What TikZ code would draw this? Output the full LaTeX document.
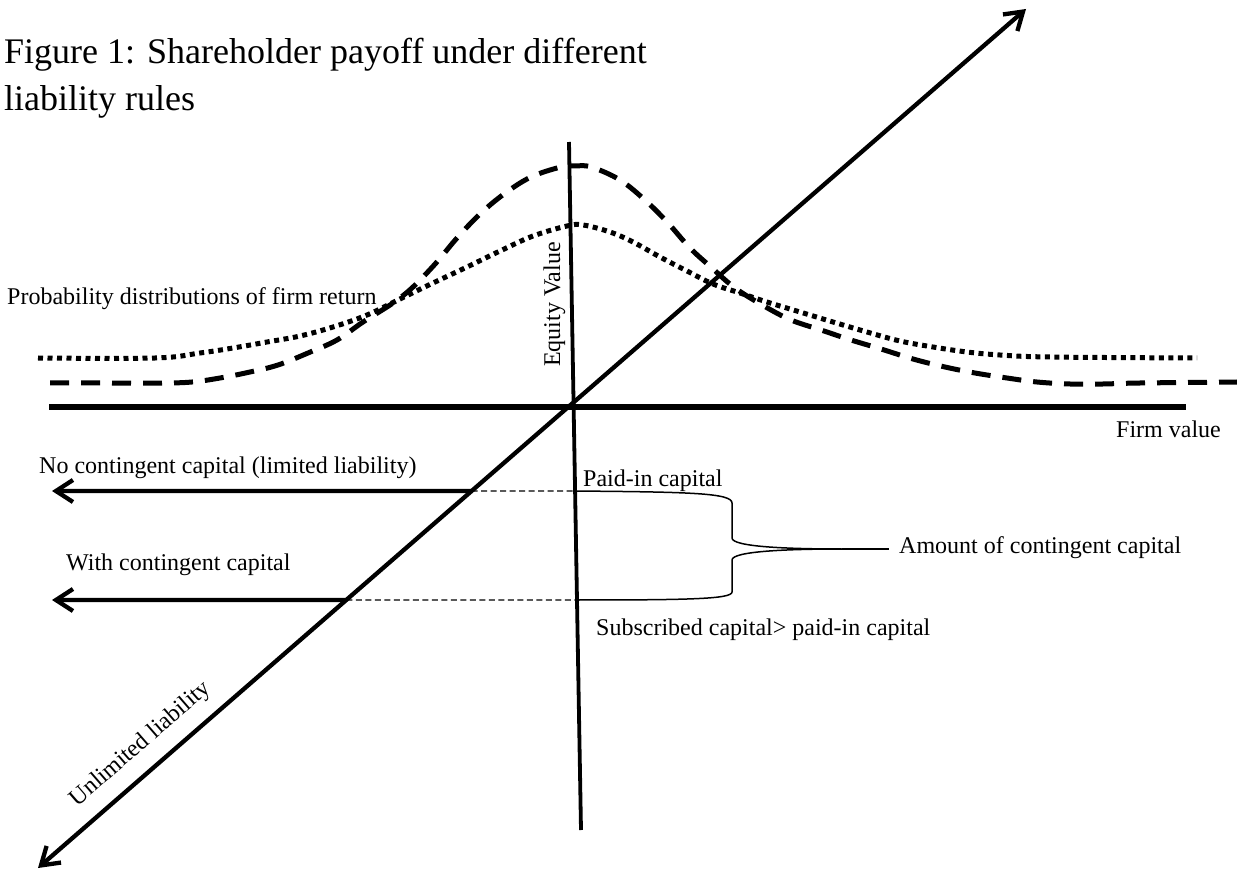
\documentclass[tikz,border=0pt]{standalone}
\usepackage{fontspec}
\setmainfont{Liberation Serif}
\usetikzlibrary{arrows.meta,calc}
\begin{document}
\begin{tikzpicture}[x=1pt,y=-1pt,
  >={Straight Barb[length=17pt,width=22pt]},
  lblfont/.style={font=\fontsize{24}{28}\selectfont, inner sep=0pt},
  lbl/.style={lblfont, anchor=base west},
  heavy/.style={line width=6.5pt},
  axisv/.style={line width=3.8pt},
  diag/.style={line width=4.3pt},
  barb/.style={line width=4.3pt, ->},
  thindash/.style={line width=1.2pt, dash pattern=on 6pt off 3.5pt},
  bracel/.style={line width=1.5pt},
  dashcurve/.style={line width=5pt, dash pattern=on 19pt off 12pt},
  dotcurve/.style={line width=5pt, dash pattern=on 5pt off 4.5pt},
]
\useasboundingbox (0,0) rectangle (1237,874);

% title
\node[font=\fontsize{36}{47}\selectfont, inner sep=0pt, anchor=north west, align=left] (title) at (4,38)
  {Figure 1: Shareholder payoff under different\\liability rules};

% probability curves
\draw[dotcurve] plot[smooth, tension=0.6] coordinates {
 (38,358) (155,358) (200,353) (233,348) (267,342) (300,336) (333,327) (367,315)
 (400,299) (433,283) (467,267) (500,251) (533,236) (567,226) (583,225) (610,232)
 (633,242) (660,257) (687,271) (713,284) (740,293) (767,302) (800,312) (833,322)
 (867,332) (900,341) (933,347) (967,352) (1000,355) (1050,357) (1197,358)};
\draw[dashcurve] plot[smooth, tension=0.6] coordinates {
 (50,383) (100,383) (163,383) (192,382) (220,378) (250,372) (278,365) (308,353)
 (337,340) (363,322) (393,303) (413,287) (436,263) (457,238) (480,214) (504,194)
 (531,177) (561,167) (575,166) (591,167) (620,180) (646,201) (668,223) (690,248)
 (712,268) (735,288) (764,306) (791,320) (821,330) (851,340) (881,349) (913,359)
 (945,367) (975,373) (1007,378) (1037,382) (1070,384) (1103,384) (1140,383) (1237,382)};

% axes
\coordinate (hL) at (49,407);
\coordinate (hR) at (1186,407);
\coordinate (vT) at (569,142);
\coordinate (vB) at (581,830);
\coordinate (dA) at (38,868);
\coordinate (dB) at (1026,9);
\draw[heavy] (hL) -- (hR);
\draw[axisv] (vT) -- (vB);
\draw[diag, <->] (dA) -- (dB)
  node[lblfont, pos=0.121, sloped, above=13pt] (unlim) {Unlimited liability};

% payoff arrows
\coordinate (c1) at ($(dA)!0.4389!(dB)$);
\coordinate (c2) at ($(dA)!0.3120!(dB)$);
\coordinate (l1) at (52,491);
\coordinate (l2) at (52,600);
\coordinate (a1) at ($(vT)!0.5073!(vB)$);
\coordinate (a2) at ($(vT)!0.6657!(vB)$);
\draw[barb] (c1) -- (l1);
\draw[barb] (c2) -- (l2);
\draw[thindash] (c1) -- (a1);
\draw[thindash] (c2) -- (a2);

% brace
\coordinate (tip) at (842,549);
\coordinate (amtend) at (889,549);
\draw[bracel] (a1) .. controls (690,492) and (732,493) .. (732,503) -- (732,538)
  .. controls (732,547) and (790,549) .. (tip);
\draw[bracel] (tip) .. controls (790,549) and (732,551) .. (732,560) -- (732,592)
  .. controls (732,599) and (690,600) .. (a2);
\draw[bracel] (tip) -- (amtend);

% labels
\node[lbl] (prob) at (7,305) {Probability distributions of firm return};
\node[lbl] (nocc) at (39,473) {No contingent capital (limited liability)};
\node[lbl] (withcc) at (66,570) {With contingent capital};
\node[lbl] (paid) at (583,486) {Paid-in capital};
\node[lbl] (subs) at (596,635) {Subscribed capital> paid-in capital};
\node[lbl] (amount) at (899,553) {Amount of contingent capital};
\node[lbl] (firm) at (1116,438) {Firm value};
\node[lbl, rotate=90] (equity) at (560,367) {Equity Value};
\end{tikzpicture}
\end{document}
